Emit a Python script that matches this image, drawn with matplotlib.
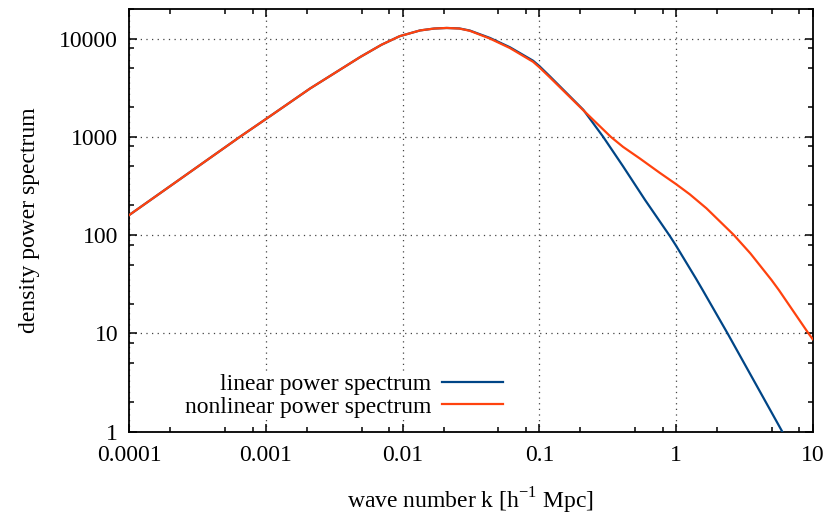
import matplotlib
matplotlib.use("Agg")
import matplotlib.pyplot as plt
from matplotlib.ticker import LogLocator, FixedLocator, FixedFormatter, NullFormatter

plt.rcParams['font.family'] = ['Liberation Serif', 'DejaVu Serif']

# wave number k [h^-1 Mpc] and power spectrum values
k_nonlin = [1e-4, 6.45e-4, 1.07e-3, 2.1e-3, 4.9e-3, 7e-3, 9.5e-3, 0.0134, 0.017,
            0.021, 0.026, 0.031, 0.0435, 0.061, 0.09, 0.1, 0.12, 0.21, 0.333,
            0.41, 0.545, 0.76, 1.0, 1.26, 1.67, 2.65, 3.5, 5.0, 5.66, 9.3, 10.0]
p_nonlin = [160, 1000, 1620, 3100, 6500, 8650, 10570, 12100, 12650,
            12820, 12650, 12000, 10000, 8000, 5800, 5100, 4000, 1860, 1000,
            789, 600, 430, 330, 260, 187, 100, 65, 34.8, 27.5, 10, 8.7]

k_lin = [1e-4, 6.45e-4, 1.07e-3, 2.1e-3, 4.9e-3, 7e-3, 9.5e-3, 0.0134, 0.017,
         0.021, 0.026, 0.031, 0.0435, 0.061, 0.09, 0.1, 0.12, 0.21, 0.293,
         0.41, 0.593, 0.9, 1.0, 1.4, 1.57, 2.38, 5.98]
p_lin = [160, 1000, 1620, 3100, 6500, 8650, 10570, 12100, 12650,
         12820, 12680, 12070, 10150, 8150, 5950, 5250, 4100, 1880, 1000,
         500, 228, 98, 78, 36, 27.4, 10, 1.0]

x_ticks = [1e-4, 1e-3, 1e-2, 1e-1, 1, 10]
x_labels = ["0.0001", "0.001", "0.01", "0.1", "1", "10"]
y_ticks = [1, 10, 100, 1000, 10000]
y_labels = ["1", "10", "100", "1000", "10000"]

fig = plt.figure(figsize=(8.3, 5.16), dpi=100)
ax = fig.add_axes([129.3 / 830, 1 - 431.5 / 516, 683.4 / 830, 422.5 / 516])

ax.plot(k_lin, p_lin, color='#004586', lw=1.6, label='linear power spectrum', zorder=3)
ax.plot(k_nonlin, p_nonlin, color='#ff420e', lw=1.6, label='nonlinear power spectrum', zorder=4)

ax.set_xscale('log')
ax.set_yscale('log')
ax.set_xlim(1e-4, 10)
ax.set_ylim(1, 2e4)

ax.xaxis.set_major_locator(FixedLocator(x_ticks))
ax.xaxis.set_major_formatter(FixedFormatter(x_labels))
ax.yaxis.set_major_locator(FixedLocator(y_ticks))
ax.yaxis.set_major_formatter(FixedFormatter(y_labels))
ax.xaxis.set_minor_locator(LogLocator(base=10, subs=[2, 5, 8], numticks=20))
ax.yaxis.set_minor_locator(LogLocator(base=10, subs=[2, 5, 8], numticks=20))
ax.xaxis.set_minor_formatter(NullFormatter())
ax.yaxis.set_minor_formatter(NullFormatter())

ax.tick_params(which='both', direction='in', top=True, right=True, labelsize=17, width=1.1)
ax.tick_params(which='major', length=6)
ax.tick_params(which='minor', length=3.6)
ax.tick_params(axis='x', pad=10)
ax.tick_params(axis='y', pad=8)
for s in ax.spines.values():
    s.set_linewidth(1.3)

ax.grid(True, which='major', color='#444444', lw=0.9, linestyle=(0, (1, 3.5)), zorder=0)

ax.set_xlabel('wave number k [h$^{\\mathregular{-1}}$ Mpc]', fontsize=17, labelpad=14)
ax.set_ylabel('density power spectrum', fontsize=17, labelpad=14)

leg = ax.legend(loc='center right', bbox_to_anchor=(0.551, 0.085), fontsize=17,
                markerfirst=False, frameon=True, fancybox=False, framealpha=1,
                edgecolor='none', facecolor='white', borderpad=0.1,
                borderaxespad=0, handlelength=2.6, handletextpad=0.45,
                labelspacing=0.05)
leg.set_zorder(5)

fig.savefig('out.png', dpi=100)
